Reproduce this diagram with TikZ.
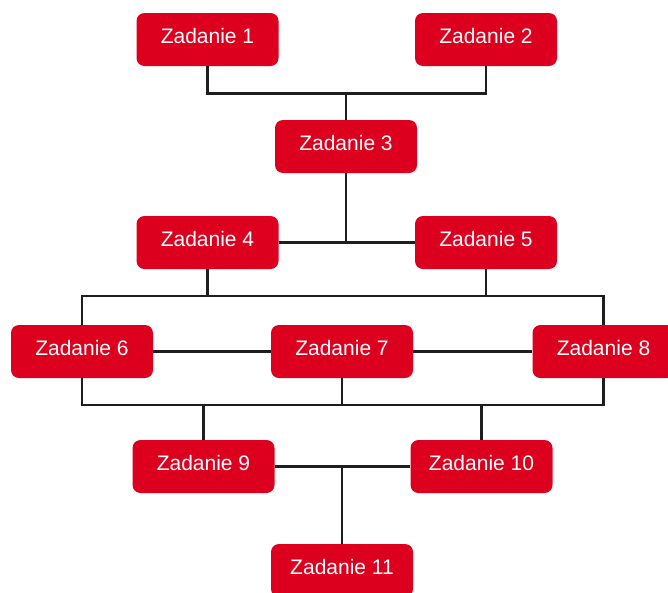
\documentclass[tikz,border=0pt]{standalone}
\usepackage{fontspec}
\setmainfont{Liberation Sans}
\definecolor{zred}{RGB}{220,0,30}
\definecolor{zline}{RGB}{30,30,30}
\begin{document}
\begin{tikzpicture}[x=1pt,y=-1pt,
  task/.style={fill=zred, rounded corners=8pt, minimum width=142pt, minimum height=53pt,
    inner sep=0pt, text height=15pt, text depth=7pt, text=white, font=\fontsize{21}{24}\selectfont},
  conn/.style={draw=zline, line width=2.8pt}]
\useasboundingbox (0,0) rectangle (668,592);
\node[task] (z1) at (207.5,39.5) {Zadanie 1};
\node[task] (z2) at (486,39.5) {Zadanie 2};
\node[task] (z3) at (346,146.5) {Zadanie 3};
\node[task] (z4) at (207.5,242.5) {Zadanie 4};
\node[task] (z5) at (486,242.5) {Zadanie 5};
\node[task] (z6) at (82,351.5) {Zadanie 6};
\node[task] (z7) at (342,351.5) {Zadanie 7};
\node[task] (z8) at (603.5,351.5) {Zadanie 8};
\node[task] (z9) at (203.5,466.5) {Zadanie 9};
\node[task] (z10) at (481.5,466.5) {Zadanie 10};
\node[task] (z11) at (342,570.5) {Zadanie 11};
\coordinate (j1) at (346,93.5);
\coordinate (b1l) at (82,296);
\coordinate (b1r) at (603.5,296);
\coordinate (b2l) at (82,405);
\coordinate (b2r) at (603.5,405);
\draw[conn] (z1.south) |- (j1) -| (z2.south);
\draw[conn] (j1) -- (z3.north);
\draw[conn] (z3.south) -- (z3.south |- z4.east);
\draw[conn] (z4.east) -- (z5.west);
\draw[conn] (z6.north) -- (b1l) -- (b1r) -- (z8.north);
\draw[conn] (z4.south) -- (z4.south |- b1l);
\draw[conn] (z5.south) -- (z5.south |- b1l);
\draw[conn] (z6.east) -- (z7.west);
\draw[conn] (z7.east) -- (z8.west);
\draw[conn] (z6.south) -- (b2l) -- (b2r) -- (z8.south);
\draw[conn] (z7.south) -- (z7.south |- b2l);
\draw[conn] (z9.north) -- (z9.north |- b2l);
\draw[conn] (z10.north) -- (z10.north |- b2l);
\draw[conn] (z9.east) -- (z10.west);
\draw[conn] (z11.north) -- (z11.north |- z9.east);
\end{tikzpicture}
\end{document}
